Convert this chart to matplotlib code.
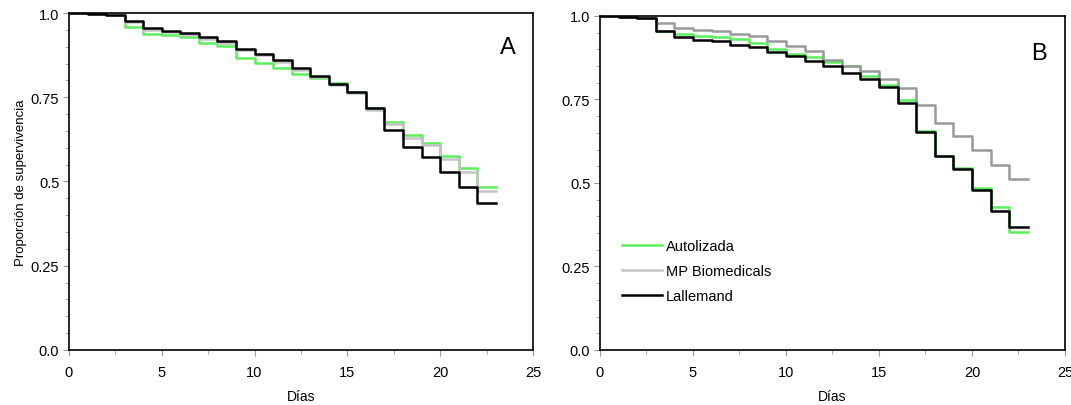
import numpy as np
import matplotlib.pyplot as plt
from matplotlib.lines import Line2D
from matplotlib.ticker import MultipleLocator

plt.rcParams['font.family'] = ['Liberation Sans', 'DejaVu Sans']

dias = np.arange(0, 24)

# panel A
autolizada_a = [1.0, 0.997, 0.995, 0.957, 0.938, 0.935, 0.930, 0.911, 0.901, 0.866, 0.853, 0.838,
                0.818, 0.807, 0.792, 0.765, 0.717, 0.677, 0.637, 0.614, 0.577, 0.539, 0.484]
mp_a = [1.0, 0.997, 0.994, 0.972, 0.950, 0.944, 0.936, 0.924, 0.912, 0.890, 0.874, 0.856,
        0.832, 0.810, 0.787, 0.762, 0.713, 0.670, 0.630, 0.607, 0.566, 0.529, 0.471]
lallemand_a = [1.0, 0.997, 0.995, 0.977, 0.955, 0.948, 0.940, 0.928, 0.916, 0.894, 0.878, 0.860,
               0.836, 0.813, 0.790, 0.765, 0.717, 0.653, 0.601, 0.573, 0.528, 0.484, 0.437]

# panel B
autolizada_b = [1.0, 0.998, 0.995, 0.955, 0.946, 0.941, 0.936, 0.930, 0.919, 0.901, 0.886, 0.876,
                0.861, 0.851, 0.819, 0.793, 0.749, 0.654, 0.580, 0.544, 0.485, 0.427, 0.354]
mp_b = [1.0, 0.997, 0.993, 0.979, 0.963, 0.959, 0.954, 0.946, 0.939, 0.926, 0.911, 0.896,
        0.869, 0.851, 0.836, 0.811, 0.783, 0.732, 0.678, 0.641, 0.600, 0.554, 0.513]
lallemand_b = [1.0, 0.997, 0.995, 0.954, 0.936, 0.929, 0.924, 0.913, 0.906, 0.893, 0.879, 0.866,
               0.849, 0.829, 0.811, 0.788, 0.739, 0.651, 0.580, 0.542, 0.479, 0.415, 0.367]

labels = ['Autolizada', 'MP Biomedicals', 'Lallemand']
verde = '#5af05a'
gris_claro = '#c4c4c4'
gris = '#999999'


def escalon(ax, vals, color):
    y = list(vals) + [vals[-1]]
    ax.step(dias, y, where='post', color=color, lw=1.8)


def estilo(ax):
    ax.set_xlim(0, 25)
    ax.set_ylim(0, 1.0)
    ax.xaxis.set_major_locator(MultipleLocator(5))
    ax.xaxis.set_minor_locator(MultipleLocator(2.5))
    ax.yaxis.set_major_locator(MultipleLocator(0.25))
    ax.yaxis.set_minor_locator(MultipleLocator(0.05))
    ax.set_yticks([0, 0.25, 0.5, 0.75, 1.0])
    ax.set_yticklabels(['0.0', '0.25', '0.5', '0.75', '1.0'])
    ax.tick_params(which='both', direction='out', color='#999999', labelsize=10.5)
    ax.tick_params(axis='x', pad=7)
    ax.tick_params(axis='y', pad=3)
    ax.tick_params(which='major', length=4)
    ax.tick_params(which='minor', length=3)
    for s in ax.spines.values():
        s.set_linewidth(1.2)
    ax.set_xlabel('Días', fontsize=10, labelpad=7)


fig = plt.figure(figsize=(10.71, 4.06), dpi=100)
ax1 = fig.add_axes([0.0644, 0.1355, 0.4332, 0.830])
ax2 = fig.add_axes([0.5602, 0.1355, 0.4342, 0.823])

escalon(ax1, autolizada_a, verde)
escalon(ax1, mp_a, gris_claro)
escalon(ax1, lallemand_a, 'black')
estilo(ax1)
ax1.set_ylabel('Proporción de supervivencia', fontsize=9.5, labelpad=3)
ax1.text(0.945, 0.9, 'A', transform=ax1.transAxes, fontsize=17, ha='center', va='center')

escalon(ax2, autolizada_b, verde)
escalon(ax2, mp_b, gris)
escalon(ax2, lallemand_b, 'black')
estilo(ax2)
ax2.text(0.945, 0.89, 'B', transform=ax2.transAxes, fontsize=17, ha='center', va='center')

handles = [Line2D([], [], color=c, lw=1.8) for c in (verde, gris_claro, 'black')]
ax2.legend(handles, labels, loc='upper left', bbox_to_anchor=(0.02, 0.372), frameon=False,
           fontsize=10.5, handlelength=2.7, handletextpad=0.3, labelspacing=0.75)

fig.savefig('out.png', dpi=100)
